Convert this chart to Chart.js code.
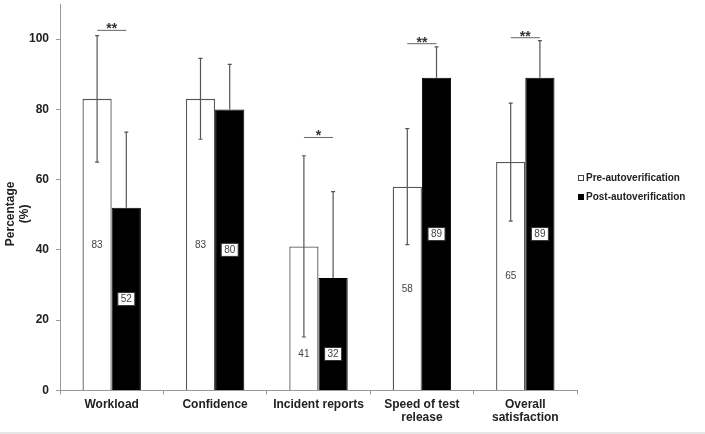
<!DOCTYPE html>
<html>
<head>
<meta charset="utf-8">
<script src="https://cdn.jsdelivr.net/npm/chart.js@4/dist/chart.umd.min.js"></script>
<style>
  html, body { margin: 0; padding: 0; background: #fff; }
  #wrap { width: 705px; height: 432px; }
  #foot { width: 705px; height: 2px; background: #e6e6e6; }
</style>
</head>
<body>
<div id="wrap"><canvas id="chart" width="705" height="432"></canvas></div>
<div id="foot"></div>
<script>
var categories = ['Workload', 'Confidence', 'Incident reports', ['Speed of test', 'release'], ['Overall', 'satisfaction']];
var preValues = [83, 83, 41, 58, 65];
var postValues = [52, 80, 32, 89, 89];
var preErr = [18, 11.5, 25.8, 16.5, 16.8];
var postErr = [21.5, 12.8, 24.6, 8.8, 10.6];
var sigMarks = ['**', '', '*', '**', '**'];
var sigLevel = [102.5, null, 72, 98.7, 100.4];
var yTicks = [0, 20, 40, 60, 80, 100];

// error bars, value labels, significance brackets, legend
var annot = {
  id: 'annot',
  afterDatasetsDraw: function (chart) {
    var ctx = chart.ctx;
    var y = chart.scales.y;
    var errs = [preErr, postErr];
    ctx.save();
    [0, 1].forEach(function (d) {
      var meta = chart.getDatasetMeta(d);
      var vals = chart.data.datasets[d].data;
      meta.data.forEach(function (bar, i) {
        var top = y.getPixelForValue(vals[i] + errs[d][i]);
        var bot = y.getPixelForValue(d === 0 ? vals[i] - errs[d][i] : vals[i]);
        ctx.strokeStyle = '#555';
        ctx.lineWidth = 1.2;
        ctx.beginPath();
        ctx.moveTo(bar.x, top); ctx.lineTo(bar.x, bot);
        ctx.moveTo(bar.x - 2, top); ctx.lineTo(bar.x + 2, top);
        if (d === 0) { ctx.moveTo(bar.x - 2, bot); ctx.lineTo(bar.x + 2, bot); }
        ctx.stroke();
      });
    });
    // value labels: bar middle, or below the error bar when they would collide
    ctx.font = '10px Arial, "Liberation Sans", sans-serif';
    ctx.textAlign = 'center';
    ctx.textBaseline = 'middle';
    [0, 1].forEach(function (d) {
      var meta = chart.getDatasetMeta(d);
      var vals = chart.data.datasets[d].data;
      meta.data.forEach(function (bar, i) {
        var cy = y.getPixelForValue(vals[i] / 2);
        var errBot = y.getPixelForValue(preValues[i] - preErr[i]);
        var preMid = y.getPixelForValue(preValues[i] / 2);
        if (preMid < errBot + 10) cy = errBot + 17;
        if (d === 1) {
          ctx.fillStyle = '#fff';
          ctx.fillRect(bar.x - 8.5, cy - 6.5, 17, 13);
          ctx.strokeStyle = '#333';
          ctx.lineWidth = 1;
          ctx.strokeRect(bar.x - 8.5, cy - 6.5, 17, 13);
        }
        ctx.fillStyle = '#444';
        ctx.fillText(String(vals[i]), bar.x, cy + 0.5);
      });
    });
    // significance
    var m0 = chart.getDatasetMeta(0), m1 = chart.getDatasetMeta(1);
    sigMarks.forEach(function (s, i) {
      if (!s) return;
      var ly = y.getPixelForValue(sigLevel[i]);
      var x0 = m0.data[i].x, x1 = m1.data[i].x;
      ctx.strokeStyle = '#666';
      ctx.lineWidth = 1;
      ctx.beginPath();
      ctx.moveTo(x0, ly); ctx.lineTo(x1, ly);
      ctx.stroke();
      ctx.fillStyle = '#333';
      ctx.font = 'bold 14px Arial, "Liberation Sans", sans-serif';
      ctx.textBaseline = 'alphabetic';
      ctx.fillText(s, (x0 + x1) / 2, ly + 3);
    });
    // legend
    var lx = chart.chartArea.right + 1;
    var ly0 = 178;
    ctx.font = 'bold 10px Arial, "Liberation Sans", sans-serif';
    ctx.textAlign = 'left';
    ctx.textBaseline = 'middle';
    chart.data.datasets.forEach(function (ds, k) {
      var yy = ly0 + k * 19;
      ctx.fillStyle = ds.backgroundColor;
      ctx.fillRect(lx, yy - 3, 6, 6);
      ctx.strokeStyle = k === 0 ? '#444' : '#000';
      ctx.lineWidth = 1;
      ctx.strokeRect(lx + 0.5, yy - 2.5, 5, 5);
      ctx.fillStyle = '#222';
      ctx.fillText(ds.label, lx + 8, yy);
    });
    ctx.restore();
  }
};

new Chart(document.getElementById('chart').getContext('2d'), {
  type: 'bar',
  data: {
    labels: categories,
    datasets: [{
      label: 'Pre-autoverification',
      backgroundColor: '#ffffff',
      borderColor: '#555',
      borderWidth: 1.3,
      data: preValues
    }, {
      label: 'Post-autoverification',
      backgroundColor: '#000000',
      borderColor: '#000000',
      borderWidth: 1,
      data: postValues
    }]
  },
  options: {
    responsive: false,
    animation: false,
    layout: { padding: { left: 4, top: 4, right: 128, bottom: 4 } },
    datasets: { bar: { categoryPercentage: 0.565, barPercentage: 1 } },
    plugins: { legend: { display: false }, tooltip: { enabled: false } },
    scales: {
      x: {
        grid: { drawOnChartArea: false, drawTicks: true, tickLength: 4, color: '#999' },
        border: { color: '#999', width: 1 },
        ticks: { color: '#222', padding: 3, maxRotation: 0, font: { family: 'Arial, "Liberation Sans", sans-serif', size: 12, weight: 'bold', lineHeight: 1.15 } }
      },
      y: {
        min: 0,
        max: 110,
        afterBuildTicks: function (axis) { axis.ticks = yTicks.map(function (v) { return { value: v }; }); },
        afterFit: function (axis) { axis.width = 56; axis.paddingTop = 0; },
        grid: { drawOnChartArea: false, drawTicks: true, tickLength: 4, color: '#999' },
        border: { color: '#999', width: 1 },
        ticks: { color: '#222', padding: 7, font: { family: 'Arial, "Liberation Sans", sans-serif', size: 12, weight: 'bold' } },
        title: {
          display: true,
          text: ['Percentage          ', '(%)          '],
          color: '#222',
          padding: 0,
          font: { family: 'Arial, "Liberation Sans", sans-serif', size: 12, weight: 'bold', lineHeight: 1.15 }
        }
      }
    }
  },
  plugins: [annot]
});
</script>
</body>
</html>
